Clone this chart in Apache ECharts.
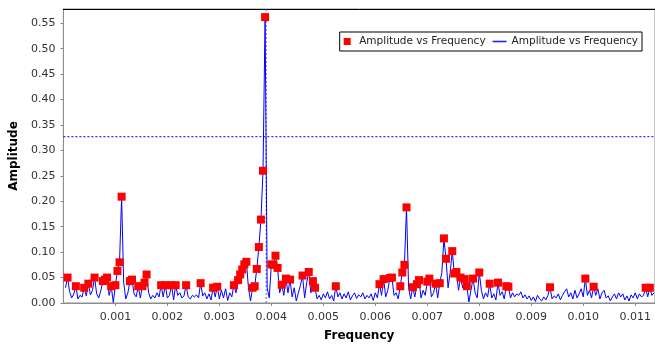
<!DOCTYPE html>
<html>
<head>
<meta charset="utf-8">
<script src="https://cdn.jsdelivr.net/npm/echarts@6/dist/echarts.min.js"></script>
<style>
  html, body { margin: 0; padding: 0; background: #fff; }
  #chart { width: 655px; height: 348px; }
</style>
</head>
<body>
<div id="chart"></div>
<script>
// spectrum bins: bin k sits at k * freqStep
const freqStep = 0.00004;
const amplitude = [
  // 0.00004 - 0.00100
  0.030, 0.050, 0.022, 0.010, 0.018, 0.033, 0.008, 0.015, 0.012, 0.030, 0.014, 0.038, 0.016, 0.025, 0.050, 0.018, 0.010, 0.024, 0.043, 0.046, 0.050, 0.015, 0.033, 0.001, 0.035,
  // 0.00104 - 0.00200
  0.063, 0.080, 0.209, 0.040, 0.008, 0.020, 0.043, 0.046, 0.018, 0.012, 0.033, 0.010, 0.033, 0.040, 0.056, 0.020, 0.008, 0.015, 0.010, 0.020, 0.012, 0.035, 0.012, 0.035, 0.010,
  // 0.00204 - 0.00300
  0.015, 0.035, 0.006, 0.035, 0.015, 0.020, 0.010, 0.014, 0.035, 0.012, 0.008, 0.015, 0.012, 0.016, 0.010, 0.039, 0.014, 0.020, 0.008, 0.018, 0.006, 0.030, 0.012, 0.032, 0.008,
  // 0.00304 - 0.00400
  0.025, 0.010, 0.028, 0.005, 0.020, 0.012, 0.035, 0.020, 0.045, 0.056, 0.066, 0.076, 0.081, 0.030, 0.004, 0.030, 0.033, 0.067, 0.110, 0.164, 0.260, 0.562, 0.030, 0.010, 0.076,
  // 0.00404 - 0.00500
  0.075, 0.093, 0.069, 0.020, 0.036, 0.015, 0.048, 0.020, 0.046, 0.012, 0.030, 0.004, 0.020, 0.035, 0.054, 0.010, 0.040, 0.061, 0.020, 0.043, 0.030, 0.008, 0.015, 0.006, 0.018,
  // 0.00504 - 0.00600
  0.010, 0.022, 0.008, 0.015, 0.004, 0.033, 0.012, 0.020, 0.008, 0.018, 0.010, 0.022, 0.006, 0.014, 0.020, 0.009, 0.016, 0.012, 0.020, 0.008, 0.015, 0.010, 0.018, 0.005, 0.020,
  // 0.00604 - 0.00700
  0.010, 0.037, 0.015, 0.047, 0.012, 0.025, 0.049, 0.050, 0.015, 0.020, 0.008, 0.033, 0.060, 0.075, 0.188, 0.030, 0.008, 0.031, 0.012, 0.037, 0.045, 0.010, 0.025, 0.015, 0.042,
  // 0.00704 - 0.00800
  0.048, 0.012, 0.020, 0.038, 0.010, 0.039, 0.060, 0.127, 0.087, 0.030, 0.060, 0.102, 0.058, 0.061, 0.025, 0.050, 0.030, 0.047, 0.033, 0.002, 0.025, 0.048, 0.020, 0.010, 0.060,
  // 0.00804 - 0.00900
  0.025, 0.008, 0.020, 0.012, 0.038, 0.010, 0.018, 0.006, 0.040, 0.015, 0.022, 0.008, 0.033, 0.032, 0.010, 0.020, 0.012, 0.018, 0.015, 0.022, 0.010, 0.016, 0.008, 0.014, 0.005,
  // 0.00904 - 0.01000
  0.012, 0.003, 0.015, 0.008, 0.004, 0.012, 0.006, 0.015, 0.031, 0.008, 0.014, 0.010, 0.018, 0.006, 0.015, 0.022, 0.028, 0.012, 0.020, 0.008, 0.025, 0.010, 0.018, 0.028, 0.012,
  // 0.01004 - 0.01100
  0.048, 0.015, 0.025, 0.010, 0.032, 0.015, 0.028, 0.008, 0.020, 0.025, 0.010, 0.014, 0.004, 0.012, 0.018, 0.008, 0.020, 0.012, 0.018, 0.006, 0.014, 0.004, 0.016, 0.010, 0.020,
  // 0.01104 - 0.01136
  0.008, 0.018, 0.012, 0.015, 0.030, 0.012, 0.030, 0.015, 0.020
];
// bins flagged as peaks (red squares)
const peakBins = [
  2, 6, 10, 12, 15, 19, 20, 21, 23, 25,
  26, 27, 28, 32, 33, 36, 38, 39, 40, 47, 49,
  52, 54, 59, 66, 72, 74,
  82, 84, 85, 86, 87, 88, 91, 92, 93, 94, 95, 96, 97, 100,
  101, 102, 103, 105, 107, 109, 115, 118, 120, 121,
  131,
  152, 154, 157, 158, 162, 163, 164, 165, 168, 170, 171, 175,
  176, 179, 181, 183, 184, 187, 188, 189, 191, 193, 194, 197, 200,
  205, 209, 213, 214,
  234,
  251, 255,
  280, 282
];
const markerFreq = 0.00390;  // vertical marker at the dominant peak
const thresholdAmp = 0.327;  // horizontal threshold line
const xMax = 0.01138;
const yMax = 0.578;

const NAME_PTS = 'Amplitude vs Frequency';
const NAME_LINE = 'Amplitude vs Frequency\u200b';
const FONT = 'DejaVu Sans';

const lineData = amplitude.map((a, i) => [(i + 1) * freqStep, a]);
const peakData = peakBins.map(k => [k * freqStep, amplitude[k - 1]]);

const chart = echarts.init(document.getElementById('chart'), null, { renderer: 'canvas' });
const gray = '#8c8c8c';

// dashed reference lines (threshold and peak marker)
function refLine(id, data, color) {
  return {
    id, type: 'line', data, z: 2, silent: true,
    symbol: 'none', showSymbol: false, legendHoverLink: false,
    lineStyle: { color, type: [2, 2], width: 1 },
    emphasis: { disabled: true }, tooltip: { show: false }
  };
}

chart.setOption({
  animation: false,
  backgroundColor: '#fff',
  grid: { show: true, left: 62, top: 9, right: -2, bottom: 45, borderColor: gray, borderWidth: 1 },
  legend: {
    right: 13, top: 32,
    backgroundColor: '#fff', borderColor: '#000', borderWidth: 1, borderRadius: 0,
    padding: [4, 4, 4, 4], itemGap: 7, itemWidth: 14, itemHeight: 7, itemTextGap: 5,
    textStyle: { fontFamily: FONT, fontSize: 10.5, color: '#222' },
    data: [
      { name: NAME_PTS, icon: 'path://M0,0H1V1H0Z', itemStyle: { color: '#ff0000', opacity: 1 } },
      { name: NAME_LINE, icon: 'path://M0,0H14V1.6H0Z', itemStyle: { color: '#2020ff', opacity: 1 } }
    ]
  },
  xAxis: [{
    type: 'value', min: 0, max: xMax, interval: 0.001, position: 'bottom', offset: 3,
    name: 'Frequency', nameLocation: 'middle', nameGap: 24,
    nameTextStyle: { fontFamily: FONT, fontWeight: 'bold', fontSize: 12, color: '#000' },
    axisLine: { lineStyle: { color: gray, width: 1 } },
    axisTick: { length: 3, lineStyle: { color: gray } },
    axisLabel: { formatter: v => v.toFixed(3), showMinLabel: false, showMaxLabel: false, color: '#333', fontFamily: FONT, fontSize: 11, margin: 6 },
    splitLine: { show: false }
  }, {
    type: 'value', min: 0, max: xMax, position: 'top',
    axisLine: { lineStyle: { color: '#000', width: 1 } },
    axisTick: { show: false }, axisLabel: { show: false }, splitLine: { show: false }
  }],
  yAxis: {
    type: 'value', min: 0, max: yMax, interval: 0.05, offset: 3,
    name: 'Amplitude', nameLocation: 'middle', nameGap: 34,
    nameTextStyle: { fontFamily: FONT, fontWeight: 'bold', fontSize: 12, color: '#000' },
    axisLine: { show: true, lineStyle: { color: gray, width: 1 } },
    axisTick: { show: true, length: 3, lineStyle: { color: gray } },
    axisLabel: { formatter: v => v.toFixed(2), showMaxLabel: false, color: '#333', fontFamily: FONT, fontSize: 11, margin: 5 },
    splitLine: { show: false }
  },
  series: [
    refLine('threshold', [[0, thresholdAmp], [xMax, thresholdAmp]], '#0000ff'),
    refLine('peakMarker', [[markerFreq, 0], [markerFreq, yMax]], '#5a5aff'),
    {
      name: NAME_PTS, type: 'scatter', data: peakData, z: 4,
      symbol: 'rect', symbolSize: 8,
      itemStyle: { color: '#ff0000', opacity: 1 }
    }, {
      name: NAME_LINE, type: 'line', data: lineData, z: 3,
      symbol: 'none', showSymbol: false,
      lineStyle: { color: '#0000ff', width: 1 },
      itemStyle: { color: '#0000ff' }
    }
  ]
});
</script>
</body>
</html>
